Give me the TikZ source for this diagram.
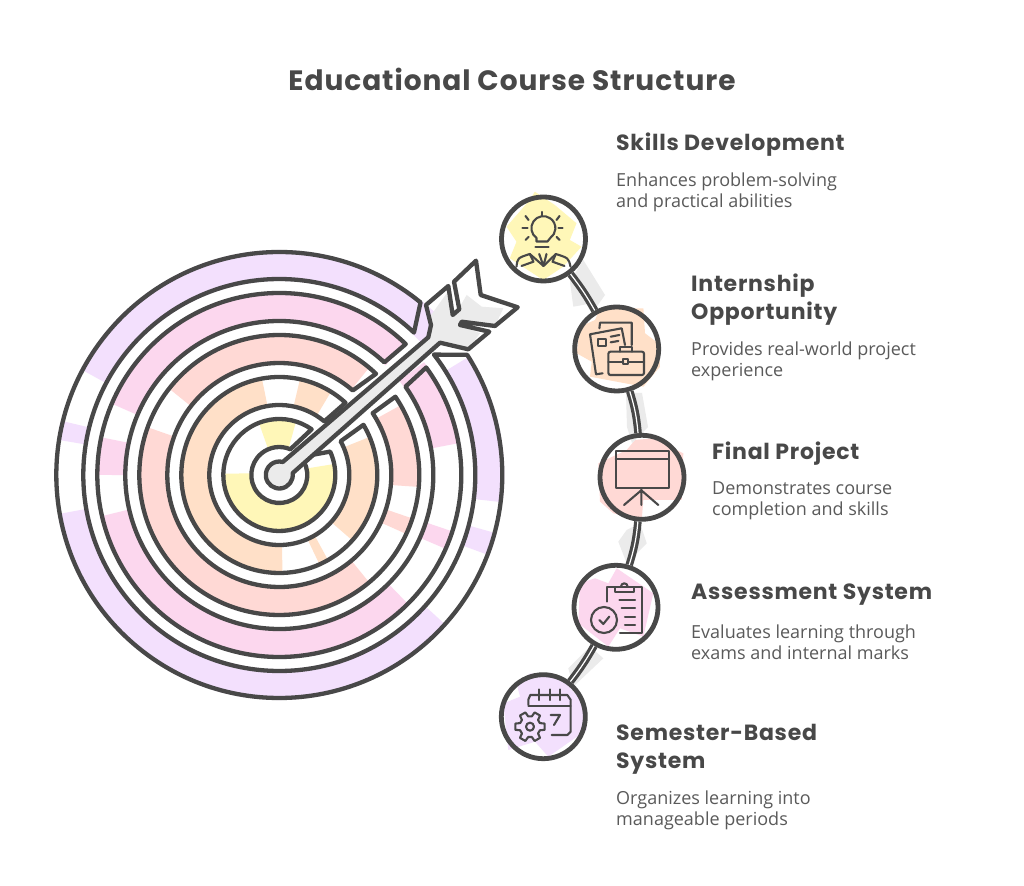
\documentclass[tikz,border=0pt]{standalone}
\usepackage{fontspec}
\setmainfont{Open Sans}
\newfontfamily\headfont[LetterSpace=3.4]{Poppins}
\definecolor{inkc}{HTML}{484848}
\definecolor{textc}{HTML}{5A5A5A}
\definecolor{purplec}{HTML}{F3E0FD}
\definecolor{pinkc}{HTML}{FCD7EE}
\definecolor{salmonc}{HTML}{FFD9D5}
\definecolor{peachc}{HTML}{FFE0C8}
\definecolor{yellowc}{HTML}{FFF7B8}
\definecolor{greyc}{HTML}{EBEBEB}
\tikzset{
  stepnode/.style={circle,draw=inkc,line width=4.8pt,minimum size=84pt,inner sep=0pt},
  link/.style={draw=inkc,line width=3.2pt,double=white,double distance=1.2pt},
  ring/.style={draw=inkc,line width=4.3pt,line join=round},
  icon/.style={draw=inkc,line width=2.1pt,line cap=round,line join=round},
  head/.style={text=inkc,anchor=west,font=\headfont\bfseries\fontsize{22}{28}\selectfont,align=left,inner sep=0pt},
  desc/.style={text=textc,anchor=west,font=\fontsize{18}{21}\selectfont,align=left,inner sep=0pt},
}
\newcommand{\bandarc}[4]{\draw[#1,line width=31pt] (#3:#2) arc[start angle=#3,end angle=#4,radius=#2];}
\begin{document}
\begin{tikzpicture}[x=1pt,y=1pt,line join=round]
    \useasboundingbox (0,0) rectangle (1024,885);
    \fill[white] (0,0) rectangle (1024,885);
    % target bands
    \begin{scope}[shift={(279.3,410)}]
    	\foreach \a/\b in {42/152,166/171,190/318,339/345,353/392}{\bandarc{purplec}{209.5}{\a}{\b}}
    	\foreach \a/\b in {46/157,168/180,193/315,336/342,370/398}{\bandarc{pinkc}{168}{\a}{\b}}
    	\foreach \a/\b in {50/142,160/310,335/342,355/390}{\bandarc{salmonc}{126}{\a}{\b}}
    	\foreach \a/\b in {100/272,294/300,318/383,58/78}{\bandarc{peachc}{84}{\a}{\b}}
    	\foreach \a/\b in {72/112,178/372}{\bandarc{yellowc}{42}{\a}{\b}}
    	% rings
    	\foreach \ro/\ou/\ol/\ri/\iu/\il in {223/50.7/32.6/196/46.6/37.9,182/46/36.2/154/47/35,140/46.3/34/112/49/33.5,98/47.5/30.8/70/50/28.8,56/54.7/24.7/28/66.8/40}{
    		\draw[ring] (\ou:\ro) arc[start angle=\ou,end angle=360+\ol,radius=\ro] -- (\il:\ri) arc[start angle=360+\il,end angle=\iu,radius=\ri] -- cycle;
    	}
    	% arrow
    	\fill[greyc] (75:13.5) -- (149,137.7) -- (150.7,158.3) -- (167.4,181.7) -- (175.7,160) -- (187.4,180) -- (202.4,168.3) -- (224,166.7) -- (215.7,149) -- (182.4,153.3) -- (180.7,150) -- (200.7,141.7) -- (189,125.7) -- (160.7,132.3) -- (8:13.5) arc[start angle=8,end angle=-285,radius=13.5] -- cycle;
    	\draw[ring] (75:13.5) -- (149,137.7) -- (151.7,150) -- (146.7,170) -- (169,189) -- (173.4,160) -- (180,165.7) -- (174.7,193.3) -- (196.7,214.3) -- (201.4,180) -- (238.4,167.7) -- (215.7,149) -- (182.4,153.3) -- (180.7,150) -- (210,143.3) -- (189,125.7) -- (160.7,132.3) -- (8:13.5) arc[start angle=8,end angle=-285,radius=13.5] -- cycle;
    \end{scope}
    % patches behind the circles
    \fill[yellowc,shift={(543.5,646)}] (-8.7,47.3) -- (11.3,34) -- (33,15.7) -- (26.3,-1) -- (38,-7.7) -- (19.7,-27.7) -- (-0.3,-41) -- (-33.7,-19.3) -- (-27,-2.7) -- (-37,12.3) -- (-13.7,39) -- cycle;
    \fill[peachc,shift={(616.7,536)}] (-21.7,29) -- (-16.7,40.7) -- (26.7,40.7) -- (28.3,15.7) -- (41.7,5.7) -- (43.3,-17.7) -- (26.7,-37.7) -- (-26.7,-27.7) -- (-25,-12.7) -- (-40,-4.3) -- (-36.7,22.3) -- cycle;
    \fill[salmonc,shift={(642,407.7)}] (-42,-24.3) -- (-43.7,14) -- (-15.3,27.3) -- (-7,37.3) -- (11.3,39) -- (41.3,24) -- (39.7,-22.7) -- (1.3,-22.7) -- (-0.3,-42.7) -- (-28.7,-36) -- cycle;
    \fill[pinkc,shift={(616,277.7)}] (0.7,39) -- (37.3,14) -- (27.3,-29.3) -- (4,-21) -- (-7.7,-39.3) -- (-37.7,-16) -- (-36,24) -- (-21,29) -- (-7.7,24) -- cycle;
    \fill[purplec,shift={(543.3,168.3)}] (-13.3,43.3) -- (16.7,40) -- (43.3,10) -- (43.3,-13.3) -- (5,-40) -- (-8.3,-25) -- (-35,-33.3) -- (-40,13.3) -- (-23.3,20) -- (-26.7,33.3) -- cycle;
    % grey strokes behind the links
    \fill[greyc] (583.3,625) -- (605,590) -- (596.7,578.3) -- (591.7,581.7) -- (573.3,578.3) -- (570,603.3) -- cycle;
    \fill[greyc] (626,492) -- (642,492) -- (648,458) -- (632,442) -- (627,458) -- cycle;
    \fill[greyc] (626.7,355) -- (618.3,343.3) -- (626.7,321.7) -- (646.7,341.7) -- (640,361.7) -- cycle;
    \fill[greyc] (590,238.3) -- (568.3,216.7) -- (573.3,198.3) -- (603.3,226.7) -- cycle;
    % circles
    \node[stepnode] (skillsn) at (543.5,646) {};
    \node[stepnode] (internn) at (616.7,536) {};
    \node[stepnode] (finaln) at (642,407.7) {};
    \node[stepnode] (assessn) at (616,277.7) {};
    \node[stepnode] (semestn) at (543.3,168.3) {};
    \draw[link] (skillsn) to[bend left=4] (internn);
    \draw[link] (internn) to[bend left=6] (finaln);
    \draw[link] (finaln) to[bend left=6] (assessn);
    \draw[link] (assessn) to[bend left=4] (semestn);
    % bulb and person
    \begin{scope}[shift={(skillsn)},icon]
    	\draw (-7,-2.5) -- (-7,1) arc[start angle=235,end angle=-55,radius=12] -- (4,-2.5) -- cycle;
    	\draw (-8,-7.7) -- (5,-7.7);
    	\draw (-1.5,27) -- (-1.5,23) (-21,10.7) -- (-16,10.7) (15,10.7) -- (19,10.7);
    	\draw (-18,23) -- (-15,19) (16,23) -- (13,19) (-18,-1) -- (-15,2) (16,-1) -- (13,2);
    	\draw (-27,-27.7) .. controls (-26,-19) .. (-13.7,-15) -- (0,-27) -- (12.3,-15) .. controls (25,-19) .. (27,-27.7);
    	\draw (-22,-27) -- (-10,-22.7) -- (-13.7,-15) (21,-27) -- (9,-22.7) -- (12.3,-15);
    	\draw (-4.3,-15) -- (0,-27) -- (3,-15);
    \end{scope}
    % papers and case
    \begin{scope}[shift={(internn)},icon]
    	\draw (-17.3,20.7) -- (-16.7,26.3) -- (15,26.3) -- (15,4);
    	\draw (-14,-24.3) -- (-20.7,-25.3) -- (-26.7,14.7) -- (5,20.7) -- (8.3,4);
    	\draw (-18.3,9.7) rectangle (-10.7,3);
    	\draw (-6,12.3) -- (2.7,14) (-6,6.7) -- (1.7,8);
    	\draw[rounded corners=2pt] (-8.3,-2.7) rectangle (27.3,-26);
    	\draw (3.3,-2.7) -- (3.3,2.3) -- (15,2.3) -- (15,-2.7);
    	\draw (6.7,-15) rectangle (11.3,-10.4);
    	\draw (-8.3,-12.7) -- (6.7,-12.7) (11.3,-12.7) -- (27.3,-12.7);
    \end{scope}
    % screen
    \begin{scope}[shift={(finaln)},icon]
    	\draw (-26.3,26.7) rectangle (27,-11);
    	\draw (-26.3,18) -- (27,18);
    	\draw (-0.7,-11) -- (-0.7,-27.7) (-0.7,-13) -- (-18,-27.7) (-0.7,-13) -- (16.3,-27.7);
    \end{scope}
    % clipboard
    \begin{scope}[shift={(assessn)},icon]
    	\draw (-9.3,5.7) -- (-9.3,20.7) -- (26.3,20.7) -- (26.3,-26) -- (4,-26);
    	\draw (-1,20.7) rectangle (18,15.7);
    	\draw (5,20.7) arc[start angle=180,end angle=0,radius=3.3];
    	\draw (3.3,7.3) -- (19,7.3) (5.7,-1) -- (19,-1) (9,-9.3) -- (19,-9.3) (9,-17.7) -- (19,-17.7);
    	\draw (-12,-12.7) circle[radius=13];
    	\draw (-16.7,-12.7) -- (-12.7,-16.7) -- (-6.7,-9.3);
    \end{scope}
    % calendar and gear
    \begin{scope}[shift={(semestn)},icon]
    	\draw (-15,11.7) -- (-15,17) -- (-13,21.7) -- (24,21.7) -- (27.3,17) -- (27.3,-15) -- (24,-18.3) -- (8.3,-18.3);
    	\draw (-15,10.7) -- (27.3,10.7);
    	\draw (-4,27.3) -- (-4,16.7) (6.7,27.3) -- (6.7,16.7) (16.7,27.3) -- (16.7,16.7);
    	\draw (7.3,1.7) -- (16.7,1.7) -- (10.7,-8.3);
    	\draw[shift={(-13.3,-10)}] (-12:15) \foreach \a in {0,60,...,300}{ -- (\a-12:15) -- (\a+12:15) -- (\a+20:10.5) -- (\a+40:10.5)} -- cycle;
    	\draw (-13.3,-10) circle[radius=4];
    \end{scope}
    % texts
    \node[text=inkc,font=\headfont\bfseries\fontsize{28}{32}\selectfont,inner sep=0pt] (titlen) at (512,806) {Educational Course Structure};
    \node[head] (skillsh) at (616,740) {Skills Development};
    \node[desc] (skillsd) at (616,693) {Enhances problem-solving\\and practical abilities};
    \node[head] (internh) at (691,585) {Internship\\Opportunity};
    \node[desc] (internd) at (691,524) {Provides real-world project\\experience};
    \node[head] (finalh) at (712,431) {Final Project};
    \node[desc] (finald) at (712,384) {Demonstrates course\\completion and skills};
    \node[head] (assessh) at (691,290) {Assessment System};
    \node[desc] (assessd) at (691,243) {Evaluates learning through\\exams and internal marks};
    \node[head] (semesth) at (616,136) {Semester-Based\\System};
    \node[desc] (semestd) at (616,75) {Organizes learning into\\manageable periods};
\end{tikzpicture}
\end{document}
